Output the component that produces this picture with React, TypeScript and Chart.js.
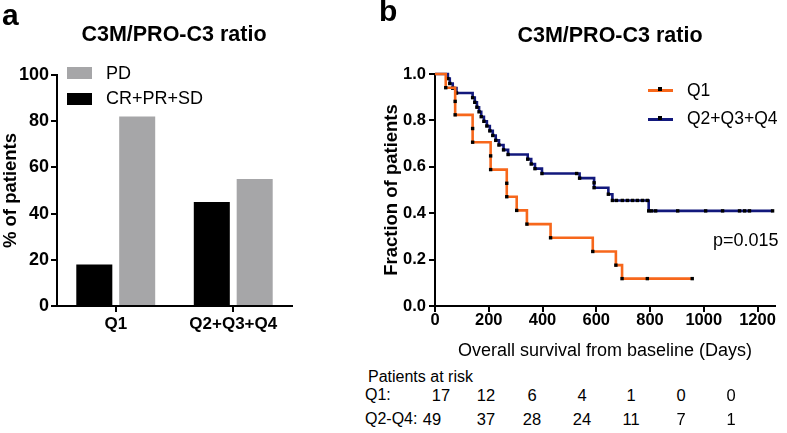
import React, { useEffect, useRef } from 'react';
import { Chart, registerables } from 'chart.js';

Chart.register(...registerables);

const FONT = '"Liberation Sans", Arial, sans-serif';
const ORANGE = '#f7671b';
const NAVY = '#12187c';
const GRAY = '#a6a6a8';

// ---- Panel a data ----
const barCategories = ['Q1', 'Q2+Q3+Q4'];
const crPrSdValues = [18, 45];
const pdValues = [82, 55];
const barTicks = [0, 20, 40, 60, 80, 100];

// ---- Panel b data (Kaplan-Meier steps; every point is an event or censor mark) ----
const survTicksX = [0, 200, 400, 600, 800, 1000, 1200];
const survTicksY = [0, 0.2, 0.4, 0.6, 0.8, 1.0];

const q1Days = [0, 40, 75, 75, 140, 140, 207, 207, 267, 267, 304, 342, 430, 587, 673, 696, 790, 957];
const q1Surv = [1, 0.941, 0.882, 0.824, 0.765, 0.706, 0.647, 0.588, 0.529, 0.471, 0.412, 0.353, 0.294, 0.235, 0.176, 0.118, 0.118, 0.118];

const q234Days = [
  0, 48, 55, 66, 80,
  140, 148, 156, 164, 172, 182, 193, 204, 215, 226, 238, 255, 272,
  345, 358, 372, 398,
  527, 538, 592, 592, 645, 660,
  675, 697, 716, 735, 753, 772, 790,
  795, 806, 821, 903, 1007, 1070, 1133, 1152, 1170, 1256,
];
const q234Surv = [
  1, 0.98, 0.959, 0.939, 0.918,
  0.898, 0.878, 0.857, 0.837, 0.816, 0.796, 0.776, 0.755, 0.735, 0.714, 0.694, 0.673, 0.653,
  0.633, 0.612, 0.592, 0.571,
  0.571, 0.551, 0.531, 0.51, 0.482, 0.455,
  0.455, 0.455, 0.455, 0.455, 0.455, 0.455, 0.455,
  0.41, 0.41, 0.41, 0.41, 0.41, 0.41, 0.41, 0.41, 0.41, 0.41,
];

const riskLabels = ['Q1:', 'Q2-Q4:'];
const riskQ1 = [17, 12, 6, 4, 1, 0, 0];
const riskQ234 = [49, 37, 28, 24, 11, 7, 1];
const pValueText = 'p=0.015';

// layout (positions only)
const riskColX = [486, 532, 582, 631, 681, 731];
const riskFirstColX = [441, 432];
const riskRowY = [401, 425];

function Txt(props: {
  x: number; y: number; size: number; bold?: boolean; align?: 'left' | 'center' | 'right';
  family?: string; children: React.ReactNode;
}) {
  const { x, y, size, bold = false, align = 'left', family = FONT, children } = props;
  const shift = align === 'center' ? 'translateX(-50%)' : align === 'right' ? 'translateX(-100%)' : 'none';
  return (
    <div
      style={{
        position: 'absolute', left: x, top: y - 0.846 * size, fontFamily: family, fontSize: size,
        fontWeight: bold ? 700 : 400, lineHeight: 1, whiteSpace: 'nowrap', color: '#000', transform: shift,
      }}
    >
      {children}
    </div>
  );
}

function Box(props: { x: number; y: number; w: number; h: number; c: string }) {
  return <div style={{ position: 'absolute', left: props.x, top: props.y, width: props.w, height: props.h, background: props.c }} />;
}

export default function App() {
  const aRef = useRef<HTMLCanvasElement>(null);
  const bRef = useRef<HTMLCanvasElement>(null);

  useEffect(() => {
    Chart.defaults.font.family = FONT;
    Chart.defaults.color = '#000';

    const axisGrid = (len: number) => ({
      display: true, drawOnChartArea: false, drawTicks: true, color: '#000', lineWidth: 2, tickLength: len,
    });

    const ca = new Chart(aRef.current!, {
      type: 'bar',
      data: {
        labels: barCategories,
        datasets: [
          { label: 'CR+PR+SD', data: crPrSdValues, backgroundColor: '#000', categoryPercentage: 0.73, barPercentage: 0.84 },
          { label: 'PD', data: pdValues, backgroundColor: GRAY, categoryPercentage: 0.73, barPercentage: 0.84 },
        ],
      },
      options: {
        animation: false, responsive: false, maintainAspectRatio: false,
        layout: { padding: { top: 75, right: 8, left: 0, bottom: 0 } },
        plugins: { legend: { display: false }, tooltip: { enabled: false } },
        scales: {
          x: {
            grid: { ...axisGrid(6), offset: false },
            border: { color: '#000', width: 2 },
            ticks: { color: '#000', padding: 4, font: { family: FONT, size: 17, weight: 'bold', lineHeight: 1 } },
            afterFit: (s: any) => { s.height = 34; },
          },
          y: {
            min: 0, max: 100,
            afterBuildTicks: (s: any) => { s.ticks = barTicks.map((v) => ({ value: v })); },
            grid: axisGrid(6),
            border: { color: '#000', width: 2 },
            ticks: { color: '#000', padding: 2, font: { family: FONT, size: 18, weight: 'bold', lineHeight: 1 } },
            title: {
              display: true, text: '% of patients', color: '#000',
              font: { family: FONT, size: 18.5, weight: 'bold', lineHeight: 1.2 }, padding: { top: 0, bottom: 0 },
            },
            afterFit: (s: any) => { s.width = 57; },
          },
        },
      } as any,
    });

    const mk = (days: number[], surv: number[]) => days.map((d, i) => ({ x: d, y: surv[i] }));
    const pr = (ctx: any) => (ctx.dataIndex === 0 ? 0 : 2.4);

    const cb = new Chart(bRef.current!, {
      type: 'line',
      data: {
        datasets: [
          {
            label: 'Q1', data: mk(q1Days, q1Surv), borderColor: ORANGE, borderWidth: 2.6, stepped: 'before',
            fill: false, clip: false, pointStyle: 'rect', pointRadius: pr, pointBackgroundColor: '#000',
            pointBorderColor: '#000', pointBorderWidth: 0,
          },
          {
            label: 'Q2+Q3+Q4', data: mk(q234Days, q234Surv), borderColor: NAVY, borderWidth: 2.6, stepped: 'before',
            fill: false, clip: false, pointStyle: 'rect', pointRadius: pr, pointBackgroundColor: '#000',
            pointBorderColor: '#000', pointBorderWidth: 0,
          },
        ],
      },
      options: {
        animation: false, responsive: false, maintainAspectRatio: false,
        layout: { padding: { top: 74, right: 12, left: 0, bottom: 0 } },
        plugins: { legend: { display: false }, tooltip: { enabled: false } },
        scales: {
          x: {
            type: 'linear', min: 0, max: 1265,
            afterBuildTicks: (s: any) => { s.ticks = survTicksX.map((v) => ({ value: v })); },
            grid: axisGrid(6),
            border: { color: '#000', width: 2 },
            ticks: {
              color: '#000', padding: 0, font: { family: FONT, size: 16.5, weight: 'bold', lineHeight: 1 },
              callback: (v: any) => String(v),
            },
            title: {
              display: true, text: 'Overall survival from baseline (Days)', color: '#000',
              font: { family: FONT, size: 18, weight: 'normal', lineHeight: 1.2 }, padding: { top: 0, bottom: 4 },
            },
            afterFit: (s: any) => { s.height = 60; },
          },
          y: {
            min: 0, max: 1,
            afterBuildTicks: (s: any) => { s.ticks = survTicksY.map((v) => ({ value: v })); },
            grid: axisGrid(6),
            border: { color: '#000', width: 2 },
            ticks: {
              color: '#000', padding: 3, font: { family: FONT, size: 16.5, weight: 'bold', lineHeight: 1 },
              callback: (v: any) => Number(v).toFixed(1),
            },
            title: {
              display: true, text: 'Fraction of patients', color: '#000',
              font: { family: FONT, size: 18.5, weight: 'bold', lineHeight: 1.2 }, padding: { top: 3, bottom: 0 },
            },
            afterFit: (s: any) => { s.width = 57; },
          },
        },
      } as any,
    });

    return () => { ca.destroy(); cb.destroy(); };
  }, []);

  return (
    <div style={{ position: 'fixed', left: 0, top: 0, width: 787, height: 433, background: '#fff', overflow: 'hidden' }}>
      <canvas ref={aRef} width={300} height={340} style={{ position: 'absolute', left: 0, top: 0 }} />
      <canvas ref={bRef} width={409} height={366} style={{ position: 'absolute', left: 378, top: 0 }} />

      {/* panel letters and titles */}
      <Txt x={2} y={25} size={30} bold>a</Txt>
      <Txt x={379} y={21} size={30} bold>b</Txt>
      <Txt x={174} y={42.5} size={21.5} bold align="center">C3M/PRO-C3 ratio</Txt>
      <Txt x={610} y={43} size={21.5} bold align="center">C3M/PRO-C3 ratio</Txt>

      {/* panel a legend */}
      <Box x={67} y={67} w={25} h={12} c={GRAY} />
      <Txt x={106} y={79} size={18}>PD</Txt>
      <Box x={67} y={93} w={25} h={12} c="#000" />
      <Txt x={106} y={104.5} size={18}>CR+PR+SD</Txt>

      {/* panel b legend */}
      <Box x={648} y={88.5} w={25} h={3} c={ORANGE} />
      <Box x={658} y={86.5} w={4} h={4} c="#000" />
      <Txt x={687} y={96.5} size={17.5}>Q1</Txt>
      <Box x={648} y={117.5} w={25} h={3} c={NAVY} />
      <Box x={658} y={115.5} w={4} h={4} c="#000" />
      <Txt x={687} y={125} size={17.5}>Q2+Q3+Q4</Txt>

      <Txt x={713} y={246} size={18}>{pValueText}</Txt>

      {/* patients at risk table */}
      <Txt x={368} y={383} size={16}>Patients at risk</Txt>
      {[riskQ1, riskQ234].map((row, r) => (
        <React.Fragment key={r}>
          <Txt x={365} y={riskRowY[r]} size={16}>{riskLabels[r]}</Txt>
          {row.map((v, i) => (
            <Txt key={i} x={i === 0 ? riskFirstColX[r] : riskColX[i - 1]} y={riskRowY[r]} size={16.5} align="center">{v}</Txt>
          ))}
        </React.Fragment>
      ))}
    </div>
  );
}
